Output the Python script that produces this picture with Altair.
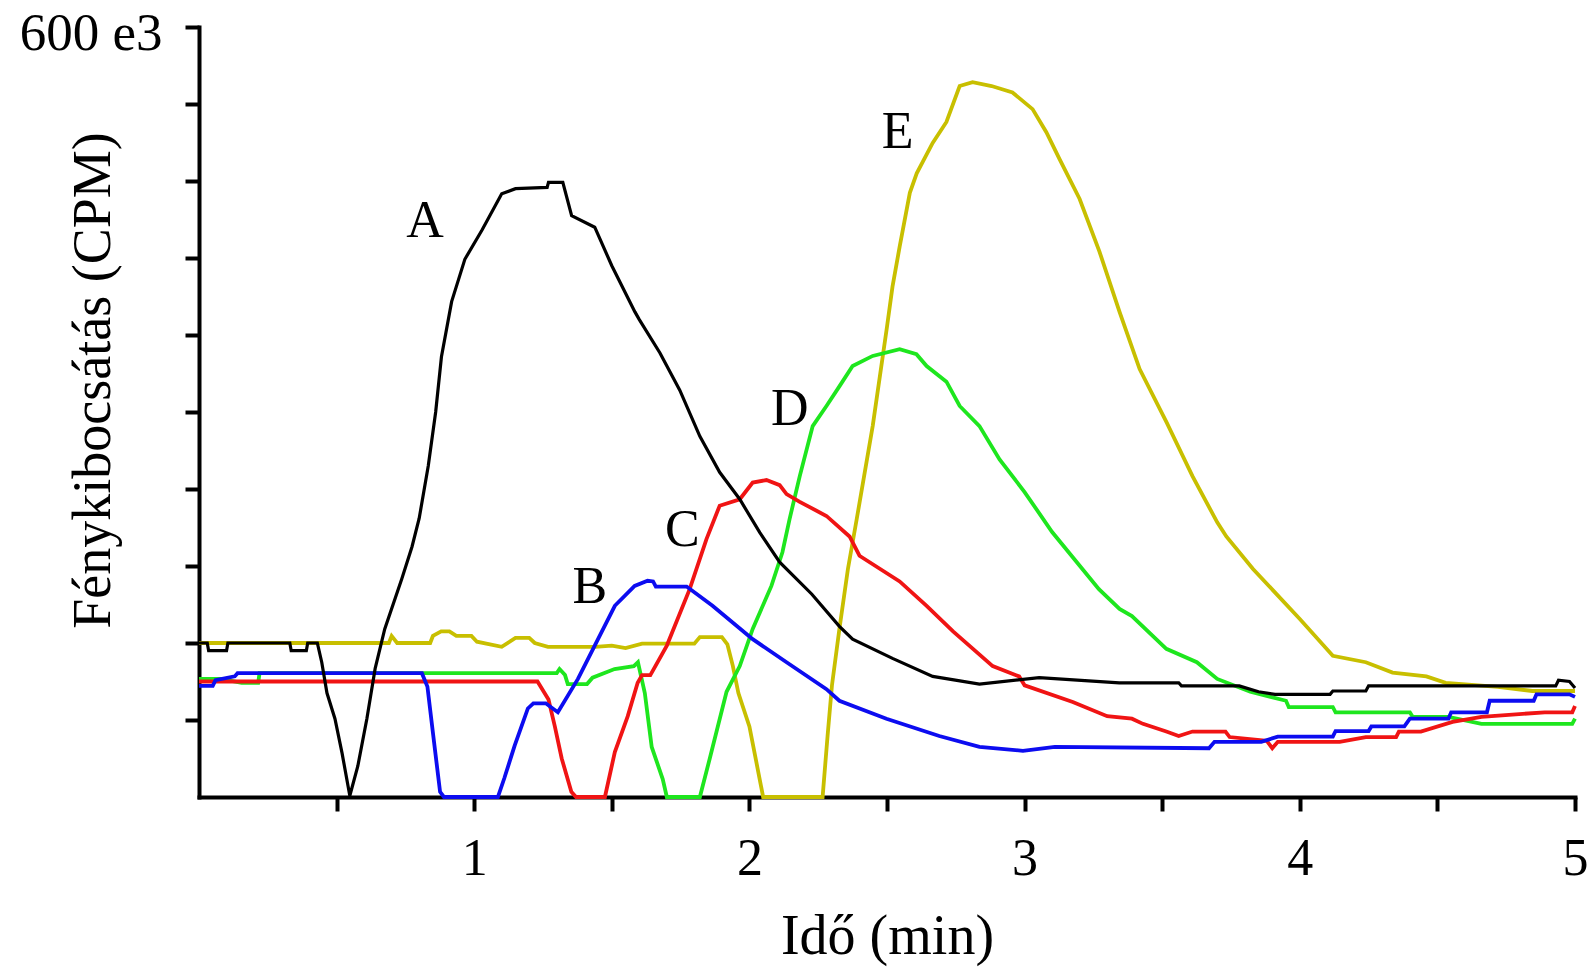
import altair as alt
import pandas as pd

# Light emission traces: time in minutes, counts in 10^3 CPM
a_time = [0, 0.03, 0.035, 0.10, 0.105, 0.33, 0.335, 0.39, 0.395, 0.43, 0.446, 0.465, 0.494,
          0.52, 0.548, 0.577, 0.61, 0.64, 0.675, 0.737, 0.774, 0.80, 0.833, 0.86, 0.881, 0.918,
          0.966, 1.029, 1.10, 1.15, 1.265, 1.27, 1.322, 1.354, 1.438, 1.50, 1.584, 1.60, 1.675,
          1.747, 1.82, 1.892, 1.965, 2.038, 2.11, 2.227, 2.327, 2.375, 2.52, 2.666, 2.836, 3.053,
          3.344, 3.56, 3.57, 3.78, 3.85, 3.91, 4.11, 4.12, 4.24, 4.25, 4.93, 4.94, 4.98, 5.0]
a_cpm = [120, 120, 114, 114, 120, 120, 114, 114, 120, 120, 105, 81, 61,
         34, 1, 24, 61, 100, 131, 170, 195, 217, 258, 300, 343, 386,
         419, 442, 470, 474, 475, 479, 479, 453, 444, 414, 378, 372, 346,
         317, 281, 253, 232, 206, 183, 158, 133, 123, 108, 94, 88, 93,
         89, 89, 86.6, 86.6, 82, 80, 80, 82.6, 82.6, 86.6, 86.6, 91, 90, 85]

b_time = [0, 0.05, 0.06, 0.13, 0.14, 0.81, 0.83, 0.85, 0.876, 0.89, 1.086, 1.11, 1.147, 1.195,
          1.215, 1.26, 1.304, 1.377, 1.438, 1.511, 1.583, 1.63, 1.65, 1.66, 1.772, 1.866, 2.012,
          2.135, 2.28, 2.327, 2.498, 2.69, 2.836, 2.994, 3.11, 3.67, 3.69, 3.86, 3.92, 4.12, 4.13,
          4.25, 4.26, 4.38, 4.40, 4.54, 4.55, 4.68, 4.69, 4.85, 4.86, 4.98, 5.0]
b_cpm = [86.6, 86.6, 91, 94, 96.5, 96.5, 86, 50, 4, 0, 0, 15, 40, 69,
         73, 73, 66, 92, 118, 149, 164.5, 168.5, 168, 164, 164, 149, 123,
         105, 84, 75, 61, 47.5, 39, 36, 39, 38, 43, 43, 47, 47, 51.4,
         51.4, 55, 55, 61, 61, 66, 66, 75, 75, 80, 80, 78]

c_time = [0, 1.23, 1.27, 1.293, 1.318, 1.353, 1.37, 1.475, 1.511, 1.558, 1.594, 1.61, 1.64, 1.70,
          1.783, 1.844, 1.892, 1.965, 2.012, 2.062, 2.11, 2.135, 2.183, 2.28, 2.364, 2.40, 2.546,
          2.644, 2.74, 2.884, 2.98, 3.0, 3.175, 3.30, 3.39, 3.43, 3.515, 3.56, 3.61, 3.73, 3.745,
          3.88, 3.90, 3.92, 4.145, 4.24, 4.35, 4.36, 4.44, 4.555, 4.66, 4.89, 4.99, 5.0]
c_cpm = [90, 90, 76, 55, 30, 4, 0, 0, 35, 63, 89, 95, 95, 118,
         162, 201, 227, 232, 245, 247, 243, 236, 230, 219, 203, 188, 168,
         149, 129, 102, 94, 87, 74, 63, 61, 57, 51, 47.5, 51, 51, 46.7,
         43.7, 38, 43, 43, 46.7, 46.7, 51, 51, 58.5, 62.5, 66, 66, 71]

d_time = [0, 0.08, 0.155, 0.215, 0.22, 1.30, 1.31, 1.33, 1.34, 1.41, 1.43, 1.51, 1.58, 1.595,
          1.62, 1.645, 1.685, 1.70, 1.82, 1.856, 1.917, 1.965, 2.012, 2.08, 2.12, 2.146, 2.183,
          2.23, 2.28, 2.327, 2.375, 2.448, 2.546, 2.607, 2.644, 2.716, 2.764, 2.836, 2.909, 3.0,
          3.10, 3.27, 3.345, 3.39, 3.515, 3.626, 3.70, 3.82, 3.95, 3.96, 4.12, 4.13, 4.40, 4.41,
          4.54, 4.66, 4.99, 5.0]
d_cpm = [92, 92, 89, 89, 96.5, 96.5, 99.7, 95, 88, 88, 93, 99.7, 102, 105,
         81, 39, 14, 0, 0, 30, 82, 102, 131, 164.5, 190.7, 216.6, 250,
         289, 304.7, 320, 335.8, 343.7, 349, 345, 335.8, 323.6, 304.7, 289, 263, 237.6,
         206.5, 162, 146.5, 141, 115.5, 105, 92, 82, 75, 70, 70, 66, 66, 62.5,
         62.5, 57, 57, 61]

e_time = [0, 0.69, 0.70, 0.72, 0.84, 0.85, 0.88, 0.91, 0.935, 0.99, 1.01, 1.10, 1.15, 1.20,
          1.22, 1.268, 1.44, 1.50, 1.55, 1.61, 1.80, 1.82, 1.90, 1.92, 1.94, 1.96, 2.0, 2.03,
          2.05, 2.266, 2.284, 2.30, 2.327, 2.358, 2.39, 2.448, 2.50, 2.52, 2.546, 2.583, 2.608,
          2.666, 2.716, 2.764, 2.811, 2.88, 2.956, 3.029, 3.079, 3.127, 3.20, 3.272, 3.345, 3.418,
          3.516, 3.61, 3.70, 3.733, 3.83, 4.0, 4.12, 4.24, 4.337, 4.46, 4.53, 4.72, 4.845, 5.0]
e_cpm = [120, 120, 125.5, 120, 120, 125.5, 129, 129, 125.5, 125.5, 121, 117, 124, 124,
         120, 117, 117, 118, 116, 119.5, 119.5, 124.6, 124.6, 119, 102, 81, 55, 22,
         0, 0, 47.5, 87, 131, 177.7, 216.6, 289, 366.5, 397.7, 428.8, 470.8, 486,
         509.7, 526, 554, 557, 554, 549, 536, 518, 497, 466, 425, 378, 333.5,
         292, 250, 214, 203, 177.7, 138.7, 110, 105, 97, 94, 89, 85.8, 82.6, 82.6]

# Curve letters placed next to each trace
label_names = ["A", "B", "C", "D", "E"]
label_time = [0.821, 1.42, 1.756, 2.147, 2.539]
label_cpm = [449, 163.8, 208, 302, 518]

x_ticks = [0.5, 1, 1.5, 2, 2.5, 3, 3.5, 4, 4.5, 5]
y_ticks = [60, 120, 180, 240, 300, 360, 420, 480, 540, 600]

traces = {
    "A": (a_time, a_cpm),
    "B": (b_time, b_cpm),
    "C": (c_time, c_cpm),
    "D": (d_time, d_cpm),
    "E": (e_time, e_cpm),
}
line_style = {
    "E": ("#c8bf00", 3.8),
    "D": ("#1ee61e", 3.8),
    "C": ("#f01414", 3.8),
    "B": ("#0c0cf0", 3.8),
    "A": ("#000000", 3.2),
}

FONT = "Liberation Serif"

x_enc = alt.X(
    "t:Q",
    title="Idő (min)",
    scale=alt.Scale(domain=[0, 5], nice=False, zero=False),
    axis=alt.Axis(
        values=x_ticks,
        labelExpr="datum.value % 1 === 0 ? '' + datum.value : ''",
        labelFlush=False,
        labelOverlap=False,
        grid=False,
        tickSize=14,
        labelPadding=22,
        labelFontSize=52,
        titleFontSize=56,
        titleY=156,
        titleBaseline="alphabetic",
    ),
)
y_enc = alt.Y(
    "v:Q",
    title="Fénykibocsátás (CPM)",
    scale=alt.Scale(domain=[0, 600], nice=False),
    axis=alt.Axis(
        values=y_ticks,
        labelExpr="datum.value === 600 ? '600 e3' : ''",
        labelOverlap=False,
        grid=False,
        tickSize=14,
        labelPadding=23,
        labelOffset=6,
        labelFontSize=53,
        titleFontSize=54,
        titleX=-90,
        titleY=353,
        titleAngle=270,
        titleAlign="center",
        titleBaseline="alphabetic",
    ),
)

layers = []
for name in ["E", "D", "C", "B", "A"]:
    times, vals = traces[name]
    df = pd.DataFrame({"t": times, "v": vals})
    color, width = line_style[name]
    layers.append(
        alt.Chart(df)
        .mark_line(color=color, strokeWidth=width, strokeJoin="miter")
        .encode(x=x_enc, y=y_enc)
    )

labels_df = pd.DataFrame({"t": label_time, "v": label_cpm, "name": label_names})
layers.append(
    alt.Chart(labels_df)
    .mark_text(font=FONT, fontSize=52, color="black", align="center", baseline="middle")
    .encode(x=x_enc, y=y_enc, text="name:N")
)

chart = (
    alt.layer(*layers)
    .properties(
        width=1376,
        height=770,
        autosize=alt.AutoSizeParams(type="none"),
        padding={"left": 199, "top": 27, "right": 17, "bottom": 174},
        background="white",
    )
    .configure_view(stroke=None)
    .configure_axis(
        domainColor="black",
        domainWidth=4,
        domainCap="square",
        tickColor="black",
        tickWidth=4,
        labelFont=FONT,
        titleFont=FONT,
        labelColor="black",
        titleColor="black",
        titleFontWeight="normal",
    )
)

chart.save("out.html", embed_options={"renderer": "svg", "actions": False})
